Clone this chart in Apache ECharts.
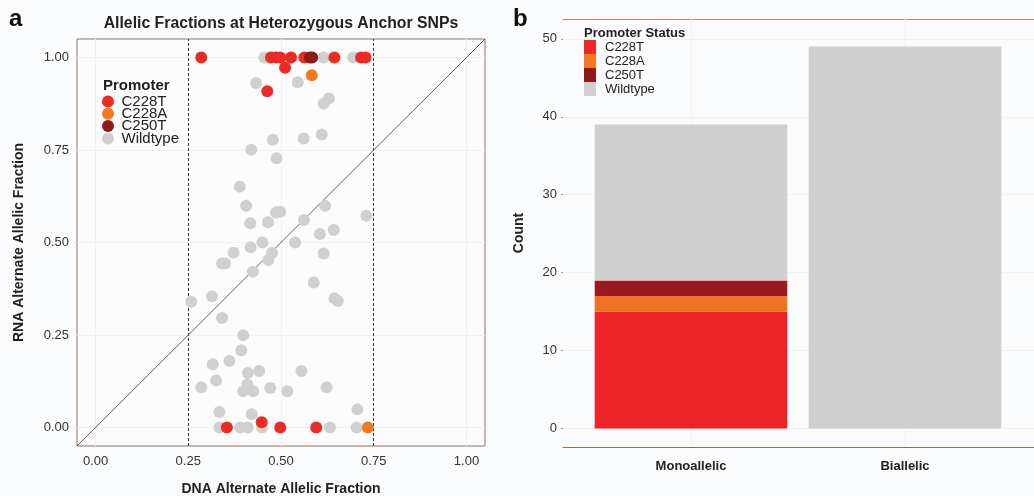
<!DOCTYPE html>
<html><head><meta charset="utf-8">
<script src="https://cdn.jsdelivr.net/npm/echarts@6/dist/echarts.min.js"></script>
<style>html,body{margin:0;padding:0;background:#fafbfc}#c{width:1034px;height:496px}</style>
</head><body><div id="c"></div>
<script>
// ---- Data ----
const groups = ['C228T', 'C228A', 'C250T', 'Wildtype'];
const colors = ['#ee2a24', '#f47a20', '#8e1a1c', '#d0d0d0'];
const barColors = ['#ec2427', '#f07322', '#9a1a1f', '#cfcfcf'];
// scatter: [DNA AF, RNA AF]
const c228t = [[0.285,1],[0.473,1],[0.486,1],[0.498,1],[0.527,1],[0.563,1],[0.644,1],[0.716,1],[0.728,1],
  [0.511,0.972],[0.463,0.909],[0.354,0],[0.448,0.014],[0.498,0],[0.595,0]];
const c228a = [[0.583,0.952],[0.734,0]];
const c250t = [[0.578,1],[0.584,1]];
const wildtype = [[0.455,1],[0.615,1],[0.695,1],
  [0.433,0.931],[0.545,0.933],[0.629,0.889],[0.615,0.875],[0.478,0.778],[0.561,0.781],[0.61,0.792],[0.42,0.751],[0.488,0.728],
  [0.389,0.651],[0.406,0.599],[0.487,0.581],[0.498,0.583],[0.417,0.552],[0.465,0.555],[0.562,0.561],[0.619,0.599],[0.73,0.572],
  [0.642,0.534],[0.605,0.523],[0.45,0.5],[0.418,0.487],[0.538,0.5],[0.372,0.472],[0.476,0.472],[0.466,0.453],[0.341,0.443],
  [0.349,0.443],[0.615,0.47],[0.424,0.421],[0.588,0.392],[0.644,0.349],[0.653,0.342],[0.258,0.34],[0.314,0.355],
  [0.341,0.296],[0.398,0.249],[0.393,0.209],[0.316,0.171],[0.361,0.18],[0.325,0.127],[0.411,0.147],[0.441,0.153],[0.555,0.153],
  [0.409,0.116],[0.285,0.109],[0.398,0.098],[0.425,0.098],[0.471,0.107],[0.517,0.098],[0.623,0.109],[0.334,0.042],[0.421,0.036],[0.706,0.049],
  [0.334,0],[0.39,0],[0.41,0],[0.449,0],[0.632,0],[0.704,0]];
const scatterSets = [c228t, c228a, c250t, wildtype];
const xTicks = [0, 0.25, 0.5, 0.75, 1];
const yTicks = [0, 0.25, 0.5, 0.75, 1];
const afRange = [-0.05, 1.05];
const dashedX = [0.25, 0.75];
// bar chart
const categories = ['Monoallelic', 'Biallelic'];
const countC228T = [15, 0];
const countC228A = [2, 0];
const countC250T = [2, 0];
const countWild = [20, 49];
const barSets = [countC228T, countC228A, countC250T, countWild];
const countTicks = [0, 10, 20, 30, 40, 50];
const countRange = [-2.36, 52.54];

const FONT = 'Liberation Sans, Arial, Helvetica, sans-serif';
const chart = echarts.init(document.getElementById('c'));
const series = [];
// wildtype first so coloured points sit on top
[3, 0, 1, 2].forEach(i => {
  series.push({
    type: 'scatter', name: groups[i], xAxisIndex: 0, yAxisIndex: 0, z: 3,
    data: scatterSets[i], symbolSize: 12, itemStyle: { color: colors[i], opacity: 1 }
  });
});
series.push({
  type: 'line', xAxisIndex: 0, yAxisIndex: 0, data: [[afRange[0], afRange[0]], [afRange[1], afRange[1]]],
  symbol: 'none', silent: true, z: 2, lineStyle: { color: '#6e5c58', width: 1 },
  markLine: {
    silent: true, symbol: 'none', label: { show: false }, z: 2,
    lineStyle: { color: '#2e3d4f', type: [3, 2], width: 1 },
    data: dashedX.map(v => ({ xAxis: v }))
  }
});
// faint gridlines (left)
series.push({
  type: 'line', xAxisIndex: 0, yAxisIndex: 0, data: [], silent: true, z: 1,
  markLine: { silent: true, symbol: 'none', label: { show: false }, z: 1,
    lineStyle: { color: '#f1f1f1', type: 'solid', width: 1 },
    data: yTicks.map(v => ({ yAxis: v })).concat(xTicks.map(v => ({ xAxis: v }))) }
});
// faint gridlines (right)
series.push({
  type: 'line', xAxisIndex: 1, yAxisIndex: 1, data: [], silent: true, z: 1,
  markLine: { silent: true, symbol: 'none', label: { show: false }, z: 1,
    lineStyle: { color: '#f3f1f0', type: 'solid', width: 1 },
    data: countTicks.map(v => ({ yAxis: v })).concat(categories.map((c, j) => ({ xAxis: j + 1 }))) }
});
barSets.forEach((d, i) => {
  series.push({
    type: 'bar', name: groups[i], xAxisIndex: 3, yAxisIndex: 2, stack: 'cnt',
    data: d, barWidth: '90%', z: 3,
    itemStyle: { color: barColors[i] }
  });
});

chart.setOption({
  backgroundColor: '#fafbfc',
  animation: false,
  textStyle: { fontFamily: FONT },
  title: [
    { text: 'a', left: 4, top: 2, textStyle: { fontSize: 24, fontWeight: 'bold', color: '#111', fontFamily: FONT } },
    { text: 'Allelic Fractions at Heterozygous Anchor SNPs', left: 276, top: 11, textAlign: 'center',
      textStyle: { fontSize: 15.8, fontWeight: 'bold', color: '#222', fontFamily: FONT } },
    { text: 'b', left: 508, top: 2, textStyle: { fontSize: 24, fontWeight: 'bold', color: '#111', fontFamily: FONT } },
    { text: 'Promoter', left: 98, top: 73, textStyle: { fontSize: 15, fontWeight: 'bold', color: '#222', fontFamily: FONT } },
    { text: 'Promoter Status', left: 579, top: 22, textStyle: { fontSize: 13, fontWeight: 'bold', color: '#222', fontFamily: FONT } }
  ],
  legend: [
    { data: groups, orient: 'vertical', left: 97, top: 89, icon: 'circle', itemWidth: 13, itemHeight: 12, itemGap: -2.7,
      itemStyle: { opacity: 1 },
      textStyle: { fontSize: 15, color: '#222', padding: [0, 0, 0, 2], fontFamily: FONT }, selectedMode: false },
    { data: groups, orient: 'vertical', left: 579, top: 35, icon: 'rect', itemWidth: 12, itemHeight: 14, itemGap: 0,
      textStyle: { fontSize: 13, color: '#222', lineHeight: 13, padding: [0, 0, 0, 4], fontFamily: 'Liberation Sans Narrow, ' + FONT }, selectedMode: false }
  ],
  grid: [
    { left: 77, right: 549, top: 39, bottom: 50, show: true, borderColor: '#8e7468', borderWidth: 1, backgroundColor: '#fcfcfd', outerBoundsMode: 'none', containLabel: false },
    { left: 563, right: 0, top: 19, bottom: 49, outerBoundsMode: 'none', containLabel: false },
    { left: 584, right: 22, top: 19, bottom: 49, outerBoundsMode: 'none', containLabel: false }
  ],
  xAxis: [
    { type: 'value', gridIndex: 0, min: afRange[0], max: afRange[1],
      name: 'DNA Alternate Allelic Fraction', nameLocation: 'middle', nameGap: 36,
      nameTextStyle: { fontSize: 14, fontWeight: 'bold', color: '#222' },
      axisLine: { show: false }, splitLine: { show: false },
      axisTick: { show: true, customValues: xTicks, length: 3, lineStyle: { color: '#777' } },
      axisLabel: { customValues: xTicks, formatter: v => v.toFixed(2), fontSize: 13, color: '#333', margin: 9 } },
    { type: 'value', gridIndex: 1, min: 0.4, max: 2.6,
      axisLine: { show: true, onZero: false, lineStyle: { color: '#a86a55' } }, splitLine: { show: false },
      axisTick: { show: false }, axisLabel: { show: false } },
    { type: 'value', gridIndex: 1, position: 'top', min: 0.4, max: 2.6,
      axisLine: { show: true, onZero: false, lineStyle: { color: '#c8826a' } }, axisTick: { show: false }, axisLabel: { show: false }, splitLine: { show: false } },
    { type: 'category', gridIndex: 2, data: categories,
      axisLine: { show: false }, splitLine: { show: false },
      axisTick: { show: true, alignWithLabel: true, length: 3, inside: true, lineStyle: { color: '#ddd' } },
      axisLabel: { fontSize: 13, fontWeight: 'bold', color: '#222', margin: 13 } }
  ],
  yAxis: [
    { type: 'value', gridIndex: 0, min: afRange[0], max: afRange[1],
      name: 'RNA Alternate Allelic Fraction', nameLocation: 'middle', nameGap: 51,
      nameTextStyle: { fontSize: 14, fontWeight: 'bold', color: '#222' },
      axisLine: { show: false }, splitLine: { show: false },
      axisTick: { show: true, customValues: yTicks, length: 3, lineStyle: { color: '#777' } },
      axisLabel: { customValues: yTicks, formatter: v => v.toFixed(2), fontSize: 13, color: '#333', margin: 8 } },
    { type: 'value', gridIndex: 1, min: countRange[0], max: countRange[1],
      name: 'Count', nameLocation: 'middle', nameGap: 37,
      nameTextStyle: { fontSize: 14, fontWeight: 'bold', color: '#222' },
      axisLine: { show: false }, splitLine: { show: false },
      axisTick: { show: true, customValues: countTicks, length: 2, lineStyle: { color: '#999' } },
      axisLabel: { customValues: countTicks, fontSize: 13, color: '#333', margin: 6 } },
    { type: 'value', gridIndex: 2, min: countRange[0], max: countRange[1], show: false }
  ],
  series: series
});
</script></body></html>
